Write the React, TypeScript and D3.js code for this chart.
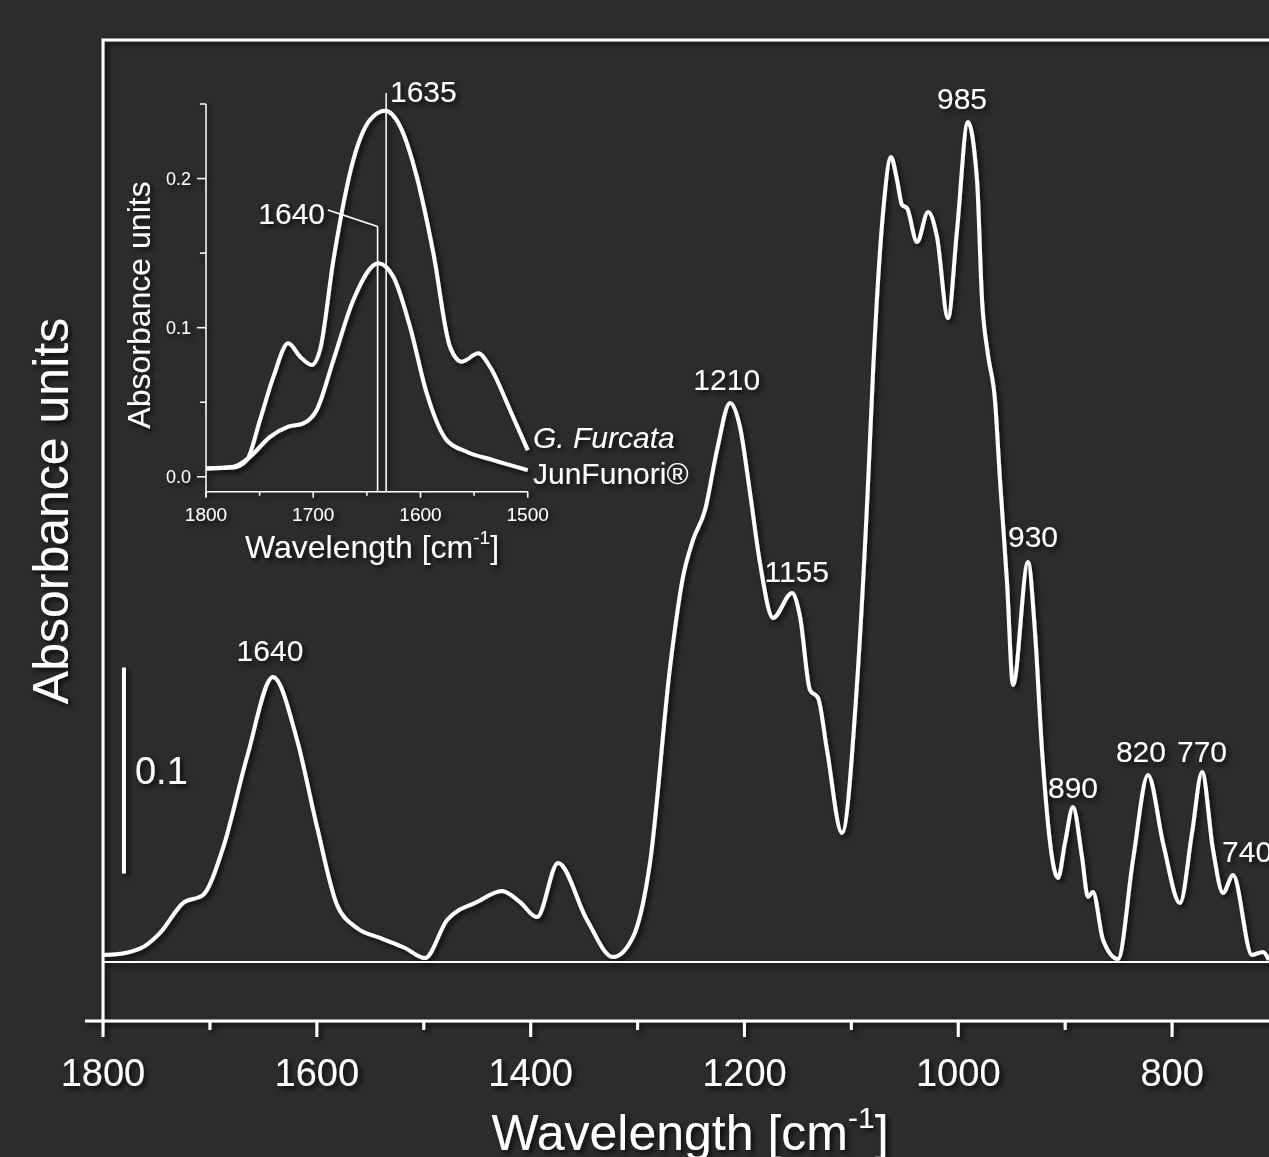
import React from 'react';
import * as d3 from 'd3';

// ---- main spectrum (wavenumber in cm-1, absorbance) ----
const mainWn = [
  1800, 1779.4, 1760.7, 1746.7, 1725.2, 1706.5, 1687.8, 1665.3, 1641.0, 1618.5,
  1599.8, 1581.1, 1562.4, 1540.9, 1517.5, 1498.8, 1478.2, 1450.2, 1426.8, 1410.0,
  1394.0, 1374.4, 1347.3, 1323.0, 1304.3, 1288.4, 1269.6, 1257.5, 1248.1, 1236.9,
  1225.7, 1213.5, 1204.2, 1194.8, 1185.5, 1173.3, 1155.5, 1148.0, 1138.7, 1131.2,
  1122.8, 1108.8, 1094.7, 1084.4, 1079.8, 1070.4, 1062.9, 1057.3, 1052.6, 1048.0,
  1038.6, 1028.3, 1019.9, 1009.6, 1001.2, 991.0, 982.5, 977.8, 972.2, 965.7,
  961.0, 954.4, 948.8, 934.8, 928.2, 921.7, 906.7, 900.2, 892.7, 884.3,
  878.7, 874.0, 864.6, 850.6, 836.6, 822.5, 808.5, 792.6, 781.4, 772.0,
  761.7, 752.4, 743.0, 725.3, 715.0, 709.4,
];
const mainAbs = [
  0.0034, 0.0044, 0.0078, 0.0141, 0.0286, 0.0325, 0.0553, 0.0995, 0.1383, 0.1078,
  0.0655, 0.0277, 0.0165, 0.0117, 0.0068, 0.0019, 0.0204, 0.0291, 0.0345, 0.0291,
  0.0218, 0.0481, 0.0204, 0.0024, 0.0121, 0.0481, 0.1432, 0.1869, 0.2049, 0.2194,
  0.2485, 0.2714, 0.2597, 0.2277, 0.1937, 0.1670, 0.1791, 0.1675, 0.1320, 0.1282,
  0.1029, 0.0626, 0.1354, 0.2325, 0.2859, 0.3636, 0.3908, 0.3796, 0.3675, 0.3660,
  0.3495, 0.3641, 0.3519, 0.3126, 0.3553, 0.4078, 0.3796, 0.3214, 0.2947, 0.2728,
  0.2340, 0.1840, 0.1345, 0.1942, 0.1597, 0.1029, 0.0408, 0.0578, 0.0752, 0.0510,
  0.0316, 0.0340, 0.0107, 0.0015, 0.0495, 0.0908, 0.0578, 0.0286, 0.0626, 0.0922,
  0.0544, 0.0335, 0.0422, 0.0034, 0.0049, 0.0010,
];

const mainMajorTicks = [1800, 1600, 1400, 1200, 1000, 800];
const mainMinorTicks = [1700, 1500, 1300, 1100, 900, 700];

const peakText = ['1640', '1210', '1155', '985', '930', '890', '820', '770', '740'];
const peakWn = [1643.8, 1216.6, 1151.1, 996.5, 930.1, 892.7, 829.1, 772.0, 753.3];
const peakAbs = [0.1461, 0.2777, 0.1845, 0.4141, 0.2015, 0.0796, 0.0971, 0.0971, 0.0485];

// ---- inset (amide I region) ----
const furcataWn = [
  1800, 1774.5, 1762, 1749.7, 1737.2, 1723.3, 1712.2, 1701.4, 1693.7, 1681.2,
  1662.6, 1647, 1633, 1619, 1603.5, 1588, 1572.5, 1561.6, 1546, 1535.2, 1516.5, 1500,
];
const furcataAbs = [
  0.0056, 0.0063, 0.0112, 0.038, 0.067, 0.0895, 0.0805, 0.075, 0.085, 0.1454,
  0.2126, 0.2394, 0.2454, 0.235, 0.2013, 0.15, 0.0872, 0.0772, 0.0828, 0.0738, 0.0448, 0.0179,
];
const junfunoriWn = [
  1800, 1774.5, 1759, 1740.3, 1723.3, 1709.3, 1696.8, 1681.2, 1662.6, 1639.3,
  1625.3, 1609.8, 1594.2, 1575.6, 1557, 1532.1, 1500,
];
const junfunoriAbs = [
  0.0056, 0.0067, 0.0134, 0.0268, 0.0336, 0.0358, 0.0448, 0.0783, 0.1186, 0.1432,
  0.1342, 0.1007, 0.056, 0.0246, 0.0168, 0.0112, 0.0045,
];

const insetMajorX = [1800, 1700, 1600, 1500];
const insetMinorX = [1750, 1650, 1550];
const insetMajorY = [0.0, 0.1, 0.2];
const insetMinorY = [0.05, 0.15, 0.25];

const FONT = '"Liberation Sans", Arial, Helvetica, sans-serif';
const BG = '#2c2c2c';
const FG = '#ffffff';

const App = () => {
  const width = 1269;
  const height = 1157;
  const frameTop = 40;
  const frameBottom = 1021;

  const x = d3.scaleLinear().domain([1800, 700]).range([103, 1279]);
  const y = d3.scaleLinear().domain([0, 0.1]).range([962, 756]);

  const ix = d3.scaleLinear().domain([1800, 1500]).range([206, 527.7]);
  const iy = d3.scaleLinear().domain([-0.01, 0.25]).range([491.7, 104]);

  const mainLine = d3.line<number>()
    .x((d, i) => x(mainWn[i]))
    .y((d) => y(d))
    .curve(d3.curveMonotoneX);

  const insetLine = (wn: number[]) => d3.line<number>()
    .x((d, i) => ix(wn[i]))
    .y((d) => iy(d))
    .curve(d3.curveMonotoneX);

  const x0 = x(1800);

  return (
    <svg width={width} height={height} style={{ position: 'absolute', left: 0, top: 0, display: 'block', background: BG }}
      fontFamily={FONT}>
      <defs>
        <filter id="shadow" x="-10%" y="-10%" width="120%" height="120%">
          <feDropShadow dx="3" dy="3" stdDeviation="2.5" floodColor="#000" floodOpacity="0.75" />
        </filter>
      </defs>
      <rect width={width} height={height} fill={BG} />
      <g filter="url(#shadow)" fill={FG} stroke="none">
        {/* frame */}
        <path d={`M${x(700) + 20},${frameTop}H${x0}V${frameBottom}`} fill="none" stroke={FG} strokeWidth={3} />
        <line x1={85} x2={width + 5} y1={frameBottom} y2={frameBottom} stroke={FG} strokeWidth={3} />
        {mainMajorTicks.map((t) => (
          <line key={'M' + t} x1={x(t)} x2={x(t)} y1={frameBottom} y2={frameBottom + 16} stroke={FG} strokeWidth={3} />
        ))}
        {mainMinorTicks.map((t) => (
          <line key={'m' + t} x1={x(t)} x2={x(t)} y1={frameBottom} y2={frameBottom + 9} stroke={FG} strokeWidth={3} />
        ))}
        {mainMajorTicks.map((t) => (
          <text key={'L' + t} x={x(t)} y={1086} fontSize={38} textAnchor="middle">{t}</text>
        ))}
        <text x={690} y={1150} fontSize={50} textAnchor="middle">
          Wavelength [cm<tspan fontSize={30} dy={-22}>-1</tspan><tspan dy={22}>]</tspan>
        </text>
        <text transform="translate(68,511) rotate(-90)" fontSize={50} textAnchor="middle">Absorbance units</text>

        {/* baseline */}
        <line x1={x0} x2={width + 5} y1={y(0)} y2={y(0)} stroke={FG} strokeWidth={2} />

        {/* scale bar */}
        <line x1={x(1780.4)} x2={x(1780.4)} y1={y(0.043)} y2={y(0.143)} stroke={FG} strokeWidth={4} />
        <text x={x(1780.4) + 11} y={y(0.093) + 14} fontSize={38}>0.1</text>

        {/* main spectrum */}
        <path d={mainLine(mainAbs) || ''} fill="none" stroke={FG} strokeWidth={4} strokeLinejoin="round" />
        {peakText.map((t, i) => (
          <text key={'p' + t} x={x(peakWn[i])} y={y(peakAbs[i])} fontSize={30}
            textAnchor={t === '740' ? 'start' : 'middle'}>{t}</text>
        ))}

        {/* inset axes */}
        <line x1={ix(1800)} x2={ix(1800)} y1={iy(0.25)} y2={iy(-0.01) + 5} stroke={FG} strokeWidth={1.5} />
        <line x1={ix(1800)} x2={ix(1500)} y1={iy(-0.01)} y2={iy(-0.01)} stroke={FG} strokeWidth={1.5} />
        {insetMajorX.map((t) => (
          <line key={'iX' + t} x1={ix(t)} x2={ix(t)} y1={iy(-0.01)} y2={iy(-0.01) + 6} stroke={FG} strokeWidth={1.5} />
        ))}
        {insetMinorX.map((t) => (
          <line key={'ix' + t} x1={ix(t)} x2={ix(t)} y1={iy(-0.01)} y2={iy(-0.01) + 4} stroke={FG} strokeWidth={1.5} />
        ))}
        {insetMajorX.map((t) => (
          <text key={'iXl' + t} x={ix(t)} y={521} fontSize={19} textAnchor="middle">{t}</text>
        ))}
        {insetMajorY.map((t) => (
          <line key={'iY' + t} x1={ix(1800) - 9} x2={ix(1800)} y1={iy(t)} y2={iy(t)} stroke={FG} strokeWidth={1.5} />
        ))}
        {insetMinorY.map((t) => (
          <line key={'iy' + t} x1={ix(1800) - 6} x2={ix(1800)} y1={iy(t)} y2={iy(t)} stroke={FG} strokeWidth={1.5} />
        ))}
        {insetMajorY.map((t) => (
          <text key={'iYl' + t} x={ix(1800) - 15} y={iy(t) + 6} fontSize={18} textAnchor="end">{t.toFixed(1)}</text>
        ))}
        <text x={372} y={558} fontSize={32} textAnchor="middle">
          Wavelength [cm<tspan fontSize={19} dy={-14}>-1</tspan><tspan dy={14}>]</tspan>
        </text>
        <text transform="translate(150,305) rotate(-90)" fontSize={32} textAnchor="middle">Absorbance units</text>

        {/* inset markers */}
        <line x1={ix(1632)} x2={ix(1632)} y1={iy(0.2574)} y2={iy(-0.01)} stroke={FG} strokeWidth={1.5} />
        <line x1={ix(1640)} x2={ix(1640)} y1={iy(0.1678)} y2={iy(-0.01)} stroke={FG} strokeWidth={1.5} />
        <polyline points={`${ix(1686.2)},${iy(0.1789)} ${ix(1640)},${iy(0.1678)}`} fill="none" stroke={FG} strokeWidth={1.5} />
        <text x={ix(1628.4)} y={iy(0.2514)} fontSize={30}>1635</text>
        <text x={ix(1689)} y={iy(0.1696)} fontSize={30} textAnchor="end">1640</text>

        {/* inset spectra */}
        <path d={insetLine(furcataWn)(furcataAbs) || ''} fill="none" stroke={FG} strokeWidth={4} strokeLinejoin="round" />
        <path d={insetLine(junfunoriWn)(junfunoriAbs) || ''} fill="none" stroke={FG} strokeWidth={4} strokeLinejoin="round" />
        <text x={533} y={448} fontSize={30} fontStyle="italic">G. Furcata</text>
        <text x={533} y={484} fontSize={30}>JunFunori®</text>
      </g>
    </svg>
  );
};

export default App;
